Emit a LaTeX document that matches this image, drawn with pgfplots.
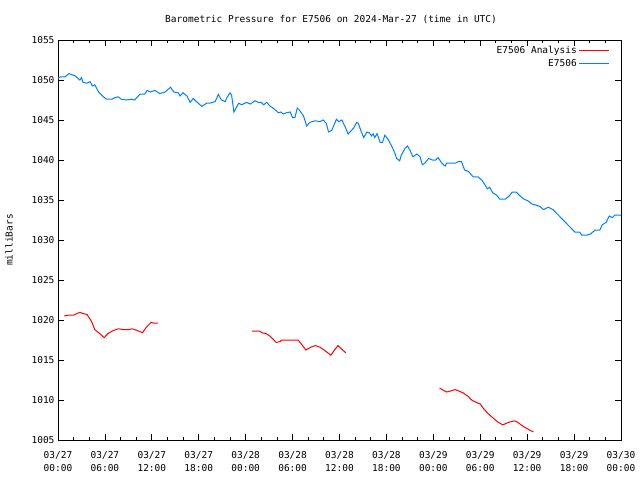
\documentclass[border=0pt]{standalone}
\usepackage{pgfplots}
\pgfplotsset{compat=1.18}
\usepackage{fontspec}
\setmainfont{DejaVu Sans Mono}
\definecolor{bl}{RGB}{0,128,255}
\begin{document}
\begin{tikzpicture}
\begin{axis}[
  scale only axis, width=563pt, height=400pt,
  xmin=0, xmax=72, ymin=1005, ymax=1055,
  axis line style={black, line width=0.8pt},
  font=\fontsize{9.5}{12}\selectfont,
  /pgf/number format/assume math mode=true,
  tick align=inside, tickwidth=6pt, subtickwidth=3pt,
  tick style={black, line width=0.8pt},
  xtick={0,6,...,72}, minor x tick num=2,
  xticklabels={03/27\\00:00,03/27\\06:00,03/27\\12:00,03/27\\18:00,03/28\\00:00,03/28\\06:00,03/28\\12:00,03/28\\18:00,03/29\\00:00,03/29\\06:00,03/29\\12:00,03/29\\18:00,03/30\\00:00},
  xticklabel style={align=center, font=\fontsize{9.5}{13}\selectfont, yshift=-8pt},
  ytick={1005,1010,...,1055},
  yticklabel style={/pgf/number format/1000 sep=},
  ylabel={milliBars}, ylabel style={yshift=12pt},
  title={Barometric Pressure for E7506 on 2024-Mar-27 (time in UTC)},
  title style={at={(0.485,1)}, yshift=7pt},
  legend style={draw=none, fill=none, at={(1,1)}, anchor=north east, xshift=-8pt, yshift=-2.5pt, font=\fontsize{9.5}{11}\selectfont, row sep=0pt},
  legend cell align=right, legend plot pos=right,
  legend image code/.code={\draw[#1] (0pt,0.3pt) -- (30pt,0.3pt);},
]
\addplot[red, line width=1pt] coordinates {
(0.8,1020.5)(1.3,1020.6)(2.0,1020.6)(2.4,1020.8)(2.8,1020.96)(3.2,1020.8)(3.7,1020.7)(4.3,1019.8)(4.7,1018.8)(5.4,1018.25)(5.9,1017.8)(6.4,1018.3)(7.1,1018.7)(7.7,1018.9)(8.4,1018.8)(9.0,1018.8)(9.5,1018.9)(10.1,1018.7)(10.8,1018.4)(11.3,1019.1)(11.9,1019.7)(12.3,1019.6)(12.8,1019.6)};
\addlegendentry{E7506 Analysis}
\addplot[bl, line width=1pt] coordinates {
(0,1050.2)(0.3,1050.4)(0.9,1050.4)(1.4,1050.8)(2.2,1050.5)(2.8,1050.0)(3.0,1050.3)(3.2,1049.7)(3.7,1049.6)(4.1,1049.8)(4.4,1049.25)(4.7,1049.4)(5.2,1048.5)(5.8,1047.9)(6.2,1047.6)(6.9,1047.6)(7.3,1047.8)(7.7,1047.9)(8.1,1047.6)(8.8,1047.5)(9.4,1047.6)(9.8,1047.5)(10.5,1048.25)(11.1,1048.25)(11.4,1048.7)(11.8,1048.5)(12.4,1048.7)(13.0,1048.3)(13.7,1048.5)(14.4,1049.1)(14.8,1048.5)(15.4,1048.4)(15.6,1048.0)(16.0,1048.4)(16.5,1048.0)(16.9,1047.2)(17.3,1047.7)(17.7,1047.3)(18.4,1046.7)(19.0,1047.1)(19.4,1047.1)(20.1,1047.3)(20.5,1048.2)(20.9,1047.5)(21.4,1047.3)(21.6,1047.8)(22.0,1048.4)(22.2,1048.1)(22.5,1046.0)(23.1,1047.1)(23.5,1046.9)(24.1,1047.2)(24.6,1047.0)(25.2,1047.4)(25.6,1047.2)(26.0,1047.2)(26.3,1046.9)(26.7,1047.2)(27.1,1046.75)(27.5,1046.5)(28.2,1045.9)(28.5,1046.0)(28.8,1045.75)(29.2,1045.9)(29.7,1046.0)(30.0,1045.3)(30.3,1045.3)(30.6,1046.5)(30.9,1046.2)(31.4,1045.5)(31.8,1044.25)(32.2,1044.7)(32.9,1044.9)(33.5,1044.8)(33.9,1045.0)(34.3,1044.6)(34.6,1043.5)(35.0,1043.7)(35.4,1044.6)(35.6,1045.1)(35.9,1044.8)(36.3,1045.0)(36.7,1044.2)(37.1,1043.25)(37.8,1044.0)(38.2,1044.7)(38.4,1044.6)(38.8,1043.5)(39.1,1042.8)(39.5,1043.5)(39.8,1043.4)(40.1,1043.0)(40.3,1043.3)(40.5,1042.8)(40.8,1043.3)(41.2,1042.2)(41.5,1042.2)(41.8,1043.1)(42.2,1042.6)(42.7,1041.7)(43.1,1040.8)(43.3,1040.2)(43.7,1039.9)(43.9,1040.6)(44.4,1041.5)(44.7,1041.75)(45.0,1041.25)(45.4,1040.4)(45.9,1040.75)(46.3,1040.4)(46.6,1039.4)(46.9,1039.6)(47.4,1040.2)(47.9,1040.0)(48.3,1040.0)(48.6,1040.3)(49.1,1039.6)(49.5,1039.25)(49.7,1039.6)(50.8,1039.6)(51.2,1039.8)(51.6,1039.8)(52.0,1038.75)(52.5,1038.55)(53.1,1037.9)(53.7,1037.9)(54.2,1037.5)(54.6,1036.9)(54.9,1036.4)(55.2,1036.6)(55.6,1035.9)(56.1,1035.6)(56.5,1035.1)(57.2,1035.1)(57.7,1035.5)(58.1,1036.0)(58.6,1036.0)(59.1,1035.5)(59.6,1035.1)(60.1,1034.9)(60.6,1034.5)(61.0,1034.4)(61.6,1034.2)(62.1,1033.8)(62.7,1034.1)(63.3,1033.8)(63.8,1033.3)(64.4,1032.7)(65.0,1032.1)(65.7,1031.4)(66.1,1031.0)(66.7,1031.0)(67.0,1030.6)(67.6,1030.6)(68.1,1030.75)(68.7,1031.25)(69.3,1031.25)(69.6,1031.9)(70.1,1032.2)(70.5,1033.0)(70.9,1032.8)(71.2,1033.1)(72.0,1033.1)};
\addlegendentry{E7506}
\addplot[red, line width=1pt, forget plot] coordinates {
(24.8,1018.6)(25.8,1018.6)(26.1,1018.4)(26.6,1018.3)(27.1,1018.0)(27.5,1017.6)(27.9,1017.2)(28.4,1017.3)(28.6,1017.5)(30.7,1017.5)(31.2,1016.9)(31.7,1016.25)(32.3,1016.6)(32.9,1016.8)(33.5,1016.6)(34.1,1016.2)(34.9,1015.6)(35.4,1016.3)(35.8,1016.8)(36.8,1015.9)};
\addplot[red, line width=1pt, forget plot] coordinates {
(48.8,1011.5)(49.3,1011.2)(49.7,1011.0)(50.1,1011.1)(50.8,1011.3)(51.3,1011.1)(51.8,1010.9)(52.5,1010.4)(52.9,1010.0)(53.5,1009.7)(54.0,1009.5)(54.4,1008.95)(55.0,1008.3)(55.7,1007.7)(56.3,1007.2)(56.9,1006.9)(57.6,1007.2)(58.4,1007.4)(58.8,1007.2)(59.5,1006.7)(60.3,1006.25)(60.8,1006.0)};
\end{axis}
\useasboundingbox (-58pt,-40pt) rectangle (582pt,440pt);
\end{tikzpicture}
\end{document}
